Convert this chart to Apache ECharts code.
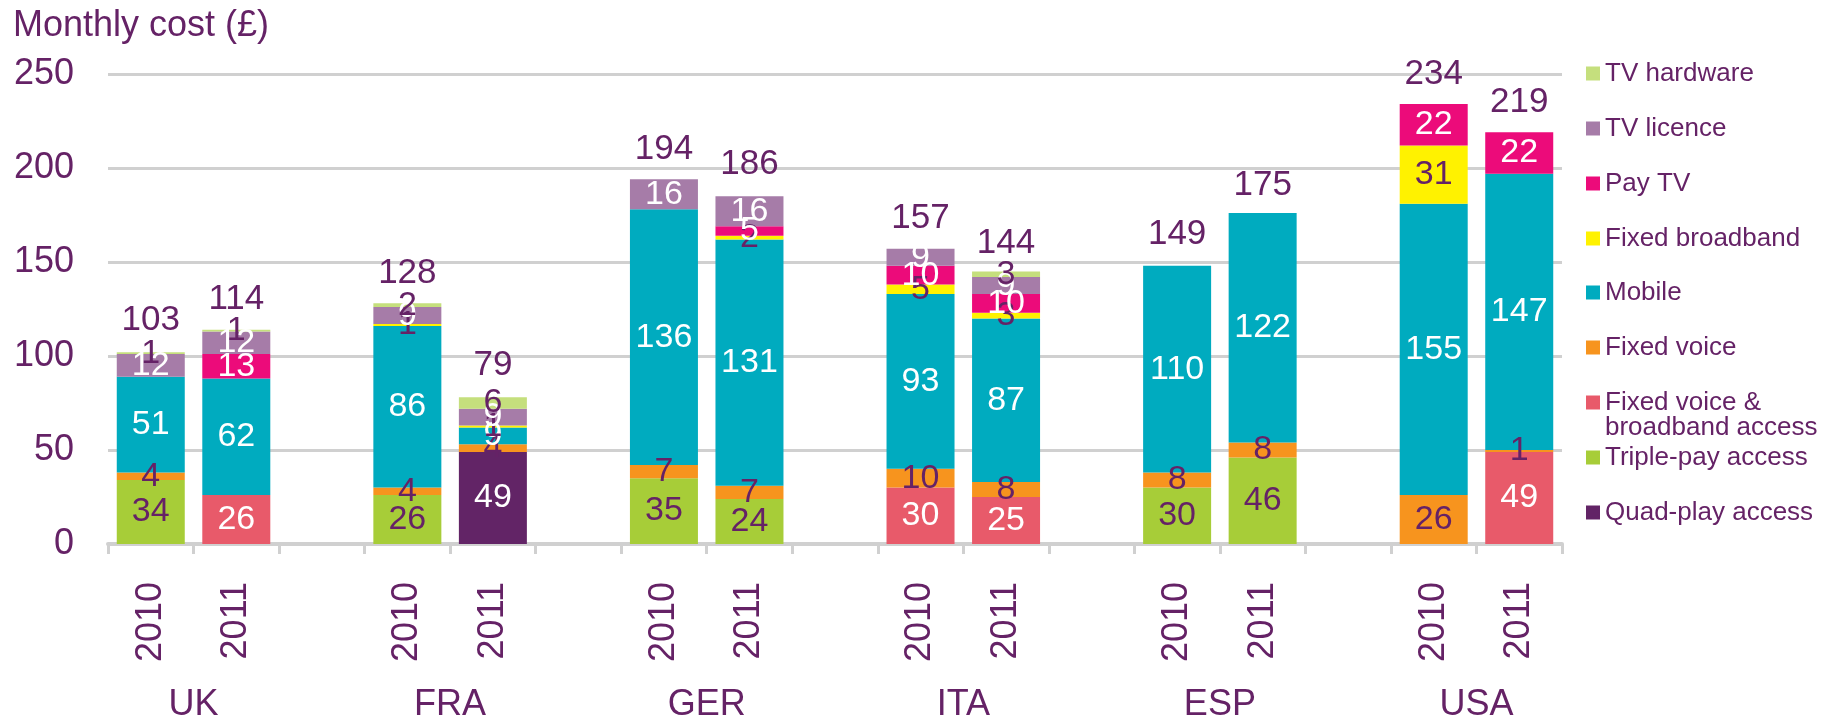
<!DOCTYPE html>
<html>
<head>
<meta charset="utf-8">
<title>Monthly cost</title>
<script src="https://cdn.jsdelivr.net/npm/echarts@6/dist/echarts.min.js"></script>
<style>
  html, body { margin: 0; padding: 0; background: #fff; }
  #chart { width: 1839px; height: 723px; }
</style>
</head>
<body>
<div id="chart"></div>
<script>
// bars in order: UK 2010, UK 2011, FRA 2010, FRA 2011, ... USA 2011
const countries = ['UK', 'FRA', 'GER', 'ITA', 'ESP', 'USA'];
const years = ['2010', '2011'];

const quadPlay            = [null, null, null, 49, null, null, null, null, null, null, null, null];
const triplePay           = [34, null, 26, null, 35, 24, null, null, 30, 46, null, null];
const fixedVoiceBroadband = [null, 26, null, null, null, null, 30, 25, null, null, null, 49];
const fixedVoice          = [4, null, 4, 4, 7, 7, 10, 8, 8, 8, 26, 1];
const mobile              = [51, 62, 86, 9, 136, 131, 93, 87, 110, 122, 155, 147];
const fixedBroadband      = [null, null, 1, 1, null, 2, 5, 3, null, null, 31, null];
const payTv               = [null, 13, null, null, null, 5, 10, 10, null, null, 22, 22];
const tvLicence           = [12, 12, 9, 9, 16, 16, 9, 9, null, null, null, null];
const tvHardware          = [1, 1, 2, 6, null, null, null, 3, null, null, null, null];
const totals              = [103, 114, 128, 79, 194, 186, 157, 144, 149, 175, 234, 219];

const purple = '#652266';
const font = 'Liberation Sans, Arial, sans-serif';

// put an empty slot between countries
function withGaps(arr) {
  const out = [];
  arr.forEach(function (v, i) {
    out.push(v);
    if (i % 2 === 1 && i < arr.length - 1) out.push(null);
  });
  return out;
}

const yearLabels = [];
countries.forEach(function (c, i) {
  yearLabels.push(years[0], years[1]);
  if (i < countries.length - 1) yearLabels.push('');
});
// country names sit on the boundary between the two years
const countryLabels = [];
for (let i = 0; i <= yearLabels.length; i++) countryLabels.push('');
countries.forEach(function (c, i) { countryLabels[i * 3 + 1] = c; });

const seriesDefs = [
  { name: 'Quad-play access', data: quadPlay, color: '#622466', label: '#fff' },
  { name: 'Triple-pay access', data: triplePay, color: '#a7cd38', label: purple },
  { name: 'Fixed voice & broadband access', data: fixedVoiceBroadband, color: '#e85a6a', label: '#fff' },
  { name: 'Fixed voice', data: fixedVoice, color: '#f7941e', label: purple },
  { name: 'Mobile', data: mobile, color: '#00abbf', label: '#fff' },
  { name: 'Fixed broadband', data: fixedBroadband, color: '#fff200', label: purple },
  { name: 'Pay TV', data: payTv, color: '#ec0b7a', label: '#fff' },
  { name: 'TV licence', data: tvLicence, color: '#a67ca8', label: '#fff' },
  { name: 'TV hardware', data: tvHardware, color: '#c5df7d', label: purple }
];

const series = seriesDefs.map(function (s) {
  return {
    name: s.name,
    type: 'bar',
    stack: 'cost',
    barWidth: 68,
    data: withGaps(s.data),
    itemStyle: { color: s.color },
    label: {
      show: true,
      position: 'inside',
      color: s.label,
      fontSize: 34,
      fontFamily: font,
      formatter: function (p) { return p.value == null ? '' : p.value; }
    }
  };
});

series.push({
  name: 'Total',
  type: 'scatter',
  data: withGaps(totals),
  symbol: 'rect',
  symbolSize: 1,
  itemStyle: { color: 'rgba(255,255,255,0)', opacity: 1 },
  z: 10,
  label: {
    show: true,
    position: 'top',
    distance: 12,
    color: purple,
    fontSize: 35,
    fontFamily: font
  }
});

// legend: one block per item, top to bottom
const legendTops = [73, 128, 183, 238, 292, 347, 402, 457, 512];
const legendOrder = seriesDefs.slice().reverse();
const legends = legendOrder.map(function (s, i) {
  const twoLines = s.name.indexOf('&') >= 0;
  return {
    data: [s.name],
    orient: 'vertical',
    left: 1586,
    top: twoLines ? legendTops[i] - 37.5 : legendTops[i] - 12.5,
    padding: 0,
    icon: 'rect',
    itemWidth: 14,
    itemHeight: 14,
    selectedMode: false,
    // empty first line keeps the marker level with "Fixed voice &"
    formatter: function (n) { return twoLines ? ' \nFixed voice &\nbroadband access' : n; },
    textStyle: {
      color: purple,
      fontSize: 26,
      lineHeight: 25,
      fontFamily: font
    }
  };
});

const chart = echarts.init(document.getElementById('chart'));
chart.setOption({
  animation: false,
  title: {
    text: 'Monthly cost (£)',
    left: 8,
    top: 3,
    textStyle: { color: purple, fontSize: 36, fontWeight: 'normal', fontFamily: font }
  },
  legend: legends,
  grid: [
    { left: 108, right: 277, top: 74, bottom: 179 },
    { left: 108, right: 277, top: 74, bottom: 179 }
  ],
  xAxis: [
    {
      type: 'category',
      gridIndex: 0,
      data: yearLabels,
      axisLine: { lineStyle: { color: '#d0d0d0', width: 4 } },
      axisTick: { show: true, length: 10, lineStyle: { color: '#d0d0d0', width: 3 } },
      axisLabel: {
        interval: 0,
        rotate: 90,
        margin: 38,
        color: purple,
        fontSize: 36,
        fontFamily: font
      }
    },
    {
      type: 'category',
      gridIndex: 1,
      boundaryGap: false,
      data: countryLabels,
      axisLine: { show: false },
      axisTick: { show: false },
      axisLabel: {
        interval: 0,
        margin: 143,
        color: purple,
        fontSize: 36,
        fontFamily: font
      }
    }
  ],
  yAxis: [
    {
      type: 'value',
      gridIndex: 0,
      min: 0,
      max: 250,
      interval: 50,
      axisLine: { show: false },
      axisTick: { show: false },
      splitLine: { lineStyle: { color: '#d0d0d0', width: 3 } },
      axisLabel: { margin: 34, color: purple, fontSize: 36, fontFamily: font }
    },
    {
      type: 'value',
      gridIndex: 1,
      show: false,
      splitLine: { show: false }
    }
  ],
  series: series
});
</script>
</body>
</html>
